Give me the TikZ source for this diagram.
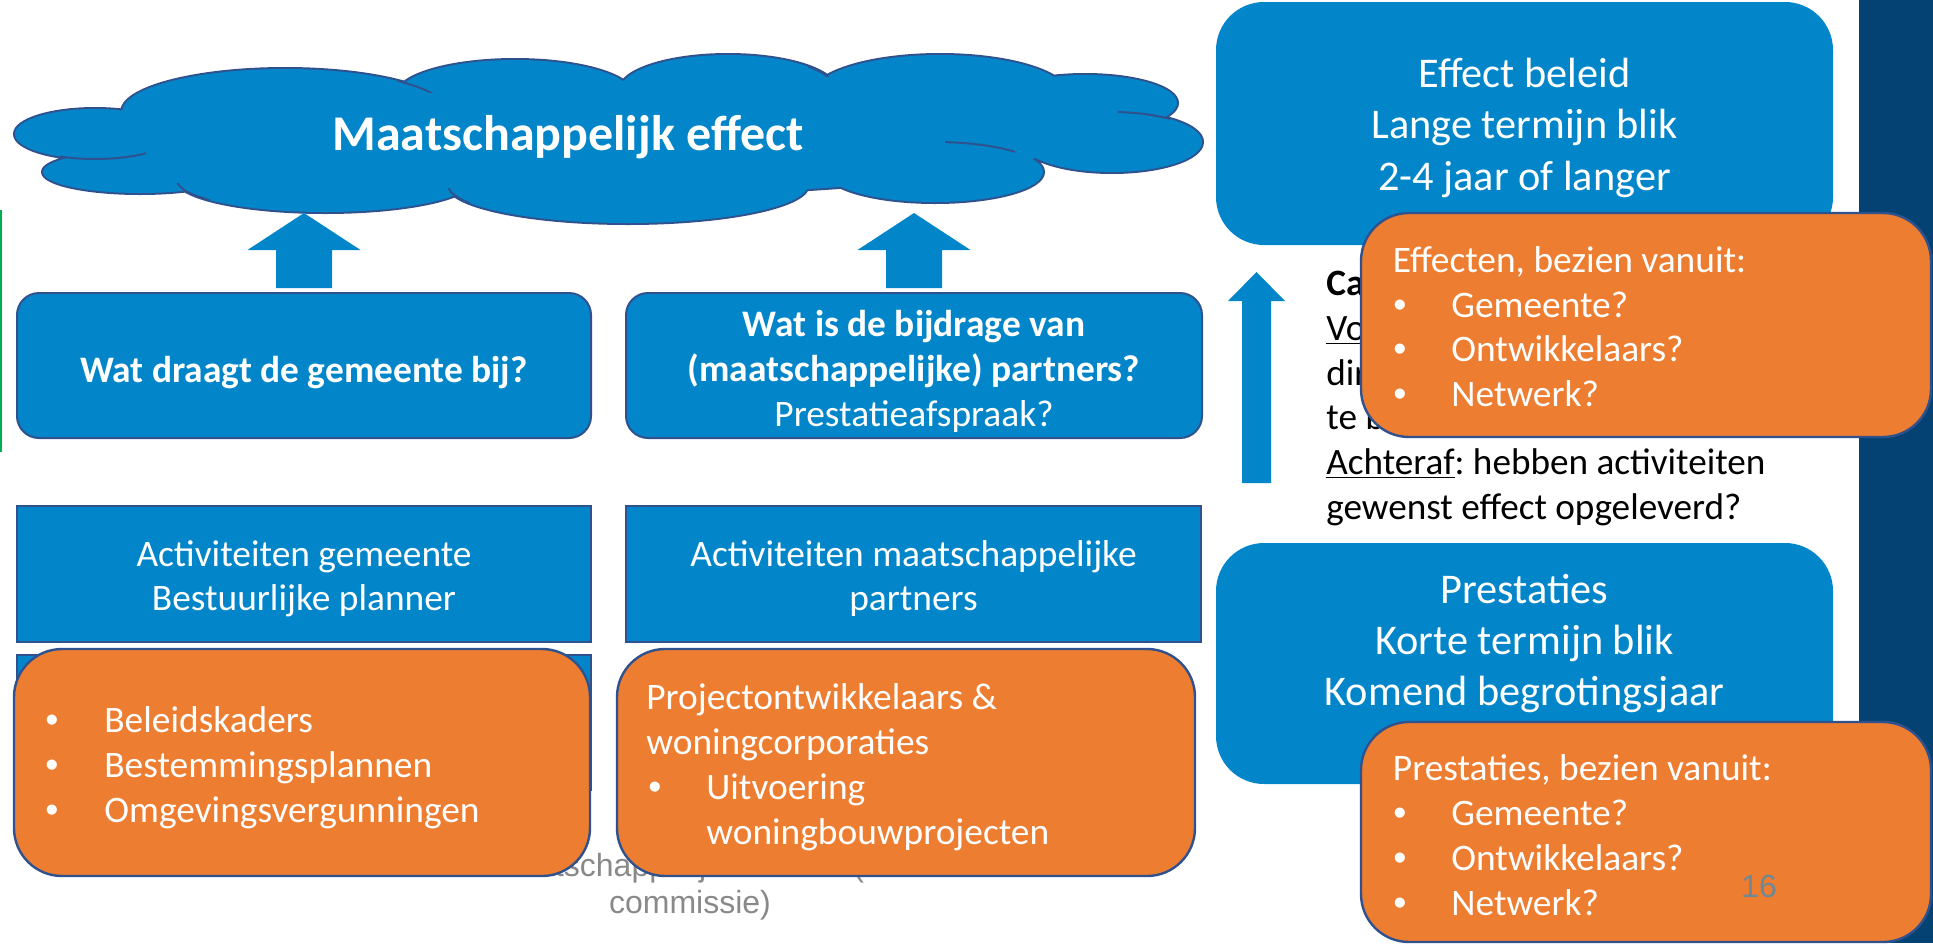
\documentclass[tikz,border=0pt]{standalone}
\usepackage{fontspec}
\setmainfont{Carlito}
\newfontfamily\arialf{Liberation Sans}
\definecolor{pblue}{RGB}{2,134,201}
\definecolor{pborder}{RGB}{47,82,143}
\definecolor{porange}{RGB}{237,125,49}
\definecolor{pnavy}{RGB}{3,66,114}
\definecolor{pgray}{RGB}{137,137,137}
\definecolor{pgreen}{RGB}{0,176,80}
\newcommand\pbul[1]{\makebox[#1][l]{\arialf •}}
\frenchspacing
\begin{document}
\begin{tikzpicture}[x=0.5pt,y=-0.5pt,
  plainbox/.style={inner sep=0pt, outer sep=0pt},
  qbox/.style={plainbox, fill=pblue, draw=pborder, line width=1pt, rounded corners=11pt},
  actbox/.style={plainbox, fill=pblue, draw=pborder, line width=0.8pt},
  obox/.style={plainbox, fill=porange, draw=pborder, line width=1.2pt, rounded corners=24pt},
  rbox/.style={plainbox, fill=pblue, rounded corners=24pt},
  wtxt/.style={inner sep=0pt, text=white, font=\fontsize{18.7}{22.5}\selectfont},
  ktxt/.style={inner sep=0pt, text=black, font=\fontsize{18.6}{22.5}\selectfont},
  rtxt/.style={inner sep=0pt, text=white, font=\fontsize{21.15}{25.5}\selectfont},
  ctxt/.style={inner sep=0pt, text=white, font=\fontsize{25}{29}\selectfont\bfseries},
  ftxt/.style={inner sep=0pt, text=pgray, font=\arialf\fontsize{16}{18.4}\selectfont},
  blockarrow/.style={fill=pblue},
  innerarc/.style={draw=pborder, line width=1pt}
]
\path[use as bounding box] (0,0) rectangle (1933,943);

% green edge line
\draw[pgreen, line width=1.2pt] (1,210) -- (1,452);

% cloud
\def\cloudlobes{
  (95,134) ellipse [x radius=40pt, y radius=12.5pt]
  (140,172) ellipse [x radius=48.5pt, y radius=10.5pt]
  (285,112) ellipse [x radius=81.5pt, y radius=21.5pt]
  (515,95) ellipse [x radius=59pt, y radius=17.5pt]
  (728,90) ellipse [x radius=54pt, y radius=17.5pt]
  (940,95) ellipse [x radius=64pt, y radius=20pt]
  (1085,103) ellipse [x radius=46pt, y radius=14pt]
  (1112,142) ellipse [x radius=45pt, y radius=15pt]
  (935,172) ellipse [x radius=54pt, y radius=15pt]
  (628,185) ellipse [x radius=90pt, y radius=19pt]
  (325,180) ellipse [x radius=74pt, y radius=16pt]
  (600,140) ellipse [x radius=230pt, y radius=27.5pt]}
\filldraw[fill=pblue, draw=pborder, line width=2pt] \cloudlobes;
\fill[pblue] \cloudlobes;
% short inner arcs of the cloud
\begin{scope}
  \clip (60,146) rectangle (146,166);
  \draw[innerarc] (95,134) ellipse [x radius=40pt, y radius=12.5pt];
\end{scope}
\begin{scope}
  \clip (945,138) rectangle (1015,160);
  \draw[innerarc] (935,172) ellipse [x radius=54pt, y radius=15pt];
\end{scope}
\begin{scope}
  \clip (1118,105) rectangle (1170,125);
  \draw[innerarc] (1112,142) ellipse [x radius=45pt, y radius=15pt];
\end{scope}
\begin{scope}
  \clip (445,188) rectangle (470,210);
  \draw[innerarc] (628,185) ellipse [x radius=90pt, y radius=19pt];
\end{scope}
\begin{scope}
  \clip (175,183) rectangle (210,200);
  \draw[innerarc] (325,180) ellipse [x radius=74pt, y radius=16pt];
\end{scope}
\begin{scope}
  \clip (398,75) rectangle (438,92);
  \draw[innerarc] (285,112) ellipse [x radius=81.5pt, y radius=21.5pt];
\end{scope}
\begin{scope}
  \clip (808,60) rectangle (832,76);
  \draw[innerarc] (728,90) ellipse [x radius=54pt, y radius=17.5pt];
\end{scope}
\node[ctxt, anchor=base] (cloudtxt) at (568,150) {Maatschappelijk effect};

% question boxes
\node[qbox, minimum width=287pt, minimum height=72.5pt] (q1) at (304,365.5) {};
\node[qbox, minimum width=288pt, minimum height=72.5pt] (q2) at (914,365.5) {};
\node[wtxt, anchor=base] (q1a) at (304,382) {\textbf{Wat draagt de gemeente bij?}};
\node[wtxt, anchor=base] (q2a) at (914,336) {\textbf{Wat is de bijdrage van}};
\node[wtxt, anchor=base] (q2b) at (914,381) {\textbf{(maatschappelijke) partners?}};
\node[wtxt, anchor=base] (q2c) at (914,426) {Prestatieafspraak?};

% block arrows towards cloud
\path (q1.north) ++(0,-5) coordinate (a1b);
\path (q2.north) ++(0,-5) coordinate (a2b);
\fill[blockarrow] (a1b) ++(-28,0) -- ++(0,-38) -- ++(-28.5,0) -- ++(56.5,-37) -- ++(56.5,37) -- ++(-28.5,0) -- ++(0,38) -- cycle;
\fill[blockarrow] (a2b) ++(-28,0) -- ++(0,-38) -- ++(-28.5,0) -- ++(56.5,-37) -- ++(56.5,37) -- ++(-28.5,0) -- ++(0,38) -- cycle;

% activity boxes
\node[actbox, minimum width=287pt, minimum height=68pt] (act1) at (304,574) {};
\node[actbox, minimum width=287.5pt, minimum height=68pt] (act2) at (913.5,574) {};
\node[actbox, minimum width=287pt, minimum height=67.5pt] (act3) at (304,722.5) {};
\node[wtxt, anchor=base] (act1a) at (304,566) {Activiteiten gemeente};
\node[wtxt, anchor=base] (act1b) at (304,610) {Bestuurlijke planner};
\node[wtxt, anchor=base] (act2a) at (913.5,566) {Activiteiten maatschappelijke};
\node[wtxt, anchor=base] (act2b) at (913.5,610) {partners};

% footer (behind orange boxes)
\node[ftxt, anchor=base] (foot1) at (690,876) {Informatie maatschappelijk effecten (informatieve};
\node[ftxt, anchor=base] (foot2) at (690,913) {commissie)};

% orange boxes bottom left
\node[obox, minimum width=288pt, minimum height=113.5pt] (o1) at (302,762.5) {};
\node[obox, minimum width=289pt, minimum height=113.5pt] (o2) at (906,762.5) {};
\node[wtxt, anchor=base west] (o1a) at (45,732) {\pbul{29.5pt}Beleidskaders};
\node[wtxt, anchor=base west] (o1b) at (45,777) {\pbul{29.5pt}Bestemmingsplannen};
\node[wtxt, anchor=base west] (o1c) at (45,822) {\pbul{29.5pt}Omgevingsvergunningen};
\node[wtxt, anchor=base west] (o2a) at (646,709) {Projectontwikkelaars \&};
\node[wtxt, anchor=base west] (o2b) at (646,754) {woningcorporaties};
\node[wtxt, anchor=base west] (o2c) at (648,799) {\pbul{29pt}Uitvoering};
\node[wtxt, anchor=base west] (o2d) at (706,844) {woningbouwprojecten};

% right side
\fill[pnavy] (1859,0) rectangle (1933,943);
\node[rbox, minimum width=308.5pt, minimum height=121.5pt] (eff) at (1524.5,123.5) {};
\node[rtxt, anchor=base] (effa) at (1524.5,87) {Effect beleid};
\node[rtxt, anchor=base] (effb) at (1524.5,138.5) {Lange termijn blik};
\node[rtxt, anchor=base] (effc) at (1524.5,190) {2-4 jaar of langer};

\node[rbox, minimum width=308.5pt, minimum height=120.5pt] (pre) at (1524.5,663.5) {};
\node[rtxt, anchor=base] (prea) at (1524.5,603) {Prestaties};
\node[rtxt, anchor=base] (preb) at (1524.5,654) {Korte termijn blik};
\node[rtxt, anchor=base] (prec) at (1524.5,705) {Komend begrotingsjaar};

% thin upward arrow
\coordinate (tab) at (1256.5,483);
\fill[blockarrow] (tab) ++(-14.5,0) -- ++(0,-182) -- ++(-14,0) -- ++(28.5,-29) -- ++(28.5,29) -- ++(-14,0) -- ++(0,182) -- cycle;

% explanatory text (partly covered by the orange box)
\node[ktxt, anchor=base west] (k1) at (1326,295) {\textbf{Cau}};
\node[ktxt, anchor=base west] (k2) at (1326,340) {\underline{Voo}};
\node[ktxt, anchor=base west] (k3) at (1326,385) {dir};
\node[ktxt, anchor=base west] (k4) at (1326,429) {te b};
\node[ktxt, anchor=base west] (k5) at (1326,474) {\underline{Achteraf}: hebben activiteiten};
\node[ktxt, anchor=base west] (k6) at (1326,519) {gewenst effect opgeleverd?};

% orange boxes right
\node[obox, minimum width=285pt, minimum height=112pt] (o3) at (1646,325) {};
\node[wtxt, anchor=base west] (o3a) at (1392.5,272) {Effecten, bezien vanuit:};
\node[wtxt, anchor=base west] (o3b) at (1393,317) {\pbul{29pt}Gemeente?};
\node[wtxt, anchor=base west] (o3c) at (1393,361) {\pbul{29pt}Ontwikkelaars?};
\node[wtxt, anchor=base west] (o3d) at (1393,406) {\pbul{29pt}Netwerk?};

\node[obox, minimum width=285pt, minimum height=110pt] (o4) at (1646,832) {};
\node[wtxt, anchor=base west] (o4a) at (1392.5,780) {Prestaties, bezien vanuit:};
\node[wtxt, anchor=base west] (o4b) at (1393,825) {\pbul{29pt}Gemeente?};
\node[wtxt, anchor=base west] (o4c) at (1393,870) {\pbul{29pt}Ontwikkelaars?};
\node[wtxt, anchor=base west] (o4d) at (1393,915) {\pbul{29pt}Netwerk?};

\node[ftxt, anchor=base, text=pgray!80!pblue] (pnum) at (1759,897) {16};
\end{tikzpicture}
\end{document}
